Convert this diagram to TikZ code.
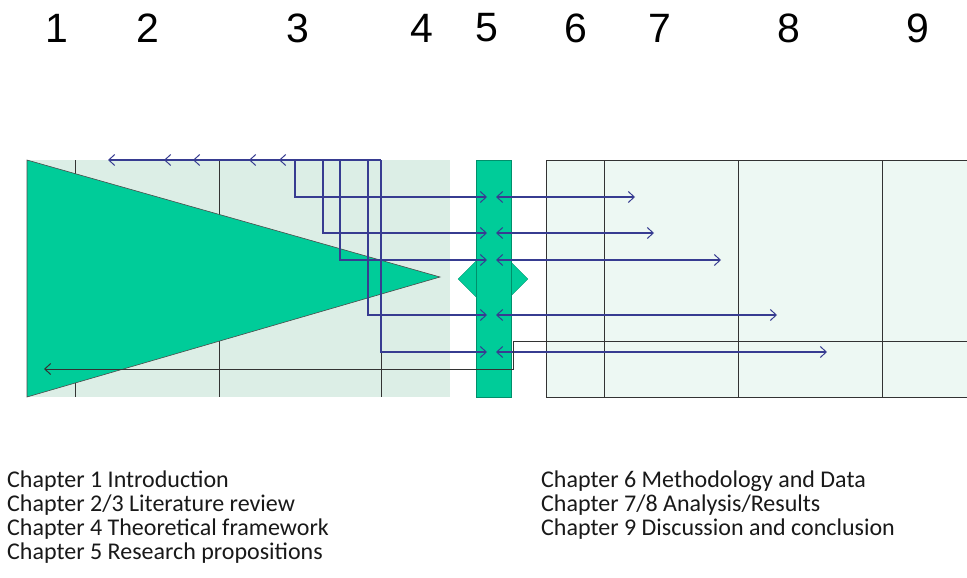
\documentclass[tikz,border=0pt]{standalone}
\usepackage{fontspec}
\setmainfont{Carlito}
\newfontfamily\numfont{Liberation Sans}
\usepackage{tikz}
\usetikzlibrary{arrows.meta,shapes.geometric}

\definecolor{propgreen}{RGB}{0,204,153}
\definecolor{leftfill}{RGB}{220,238,230}
\definecolor{rightfill}{RGB}{237,248,243}
\definecolor{loopblue}{RGB}{55,60,145}

\begin{document}
\begin{tikzpicture}[x=1pt,y=-1pt,
    loopline/.style={draw=loopblue, line width=1.1pt},
    barb/.style={-{Straight Barb[length=6pt,width=11pt,line width=1pt]}},
    twobarb/.style={{Straight Barb[length=6pt,width=11pt,line width=1pt]}-{Straight Barb[length=6pt,width=11pt,line width=1pt]}},
    divider/.style={draw=black!80, line width=1pt},
    chapnum/.style={font=\numfont\fontsize{41}{41}\selectfont, inner sep=0pt},
    chaptext/.style={font=\fontsize{24}{25}\selectfont, anchor=base west, inner sep=0pt, text=black!90}]
    \useasboundingbox (0,0) rectangle (967,578);
    \fill[white] (0,0) rectangle (967,578);

    % Draw the two chapter panels
    \fill[leftfill] (27,160) rectangle (450,397);
    \fill[rightfill] (546,160) rectangle (975,397);
    \draw[divider] (975,160) -- (546,160) -- (546,397) -- (975,397);

    % Draw the chapter borders
    \foreach \x in {75,219,381,604,738,882} {
        \draw[divider] (\x,160) -- (\x,397);
    }

    % Draw the triangle and the propositions bar
    \filldraw[fill=propgreen, draw=black!70, line width=0.6pt] (27,160) -- (440,277) -- (27,397) -- cycle;
    \node[diamond, fill=propgreen, draw=propgreen!75!black, line width=0.4pt, minimum width=70pt, minimum height=70pt, inner sep=0pt] (diam) at (493,279) {};
    \node[rectangle, fill=propgreen, draw=propgreen!70!black, line width=0.6pt, minimum width=35pt, minimum height=237pt, inner sep=0pt] (props) at (493.5,278.5) {};

    % Draw the loops through the propositions
    \foreach \xv/\yv/\xl/\xr in {295/197/283/631, 323/233/253/650, 340/260/197/717, 368/315/168/773, 381/352/112/823} {
        \coordinate (top) at (\xv,160);
        \coordinate (turn) at (\xv,\yv);
        \coordinate (back) at (\xl-4,160);
        \coordinate (inl) at (487,\yv);
        \coordinate (inr) at (496,\yv);
        \coordinate (out) at (\xr+4,\yv);
        \draw[loopline, barb] (top) -- (back);
        \draw[loopline, barb] (top) -- (turn) -- (inl);
        \draw[loopline, twobarb] (inr) -- (out);
    }

    % Draw the feedback line back to chapter 1
    \coordinate (fbstart) at (975,341);
    \coordinate (fbdown) at (513,341);
    \coordinate (fbturn) at (513,369);
    \coordinate (fbend) at (44,369);
    \draw[divider, barb] (fbstart) -- (fbdown) -- (fbturn) -- (fbend);

    % Draw the chapter numbers
    \foreach \x/\n in {57/1, 148/2, 298/3, 422/4, 487/5, 576/6, 660/7, 789/8, 918/9} {
        \node[chapnum] (num\n) at (\x,28) {\n};
    }

    % Draw the chapter list
    \node[chaptext] (ch1) at (7,487) {Chapter 1 Introduction};
    \node[chaptext] (ch23) at (7,511) {Chapter 2/3 Literature review};
    \node[chaptext] (ch4) at (7,535) {Chapter 4 Theoretical framework};
    \node[chaptext] (ch5) at (7,559) {Chapter 5 Research propositions};
    \node[chaptext] (ch6) at (541,487) {Chapter 6 Methodology and Data};
    \node[chaptext] (ch78) at (541,511) {Chapter 7/8 Analysis/Results};
    \node[chaptext] (ch9) at (541,535) {Chapter 9 Discussion and conclusion};

\end{tikzpicture}
\end{document}
